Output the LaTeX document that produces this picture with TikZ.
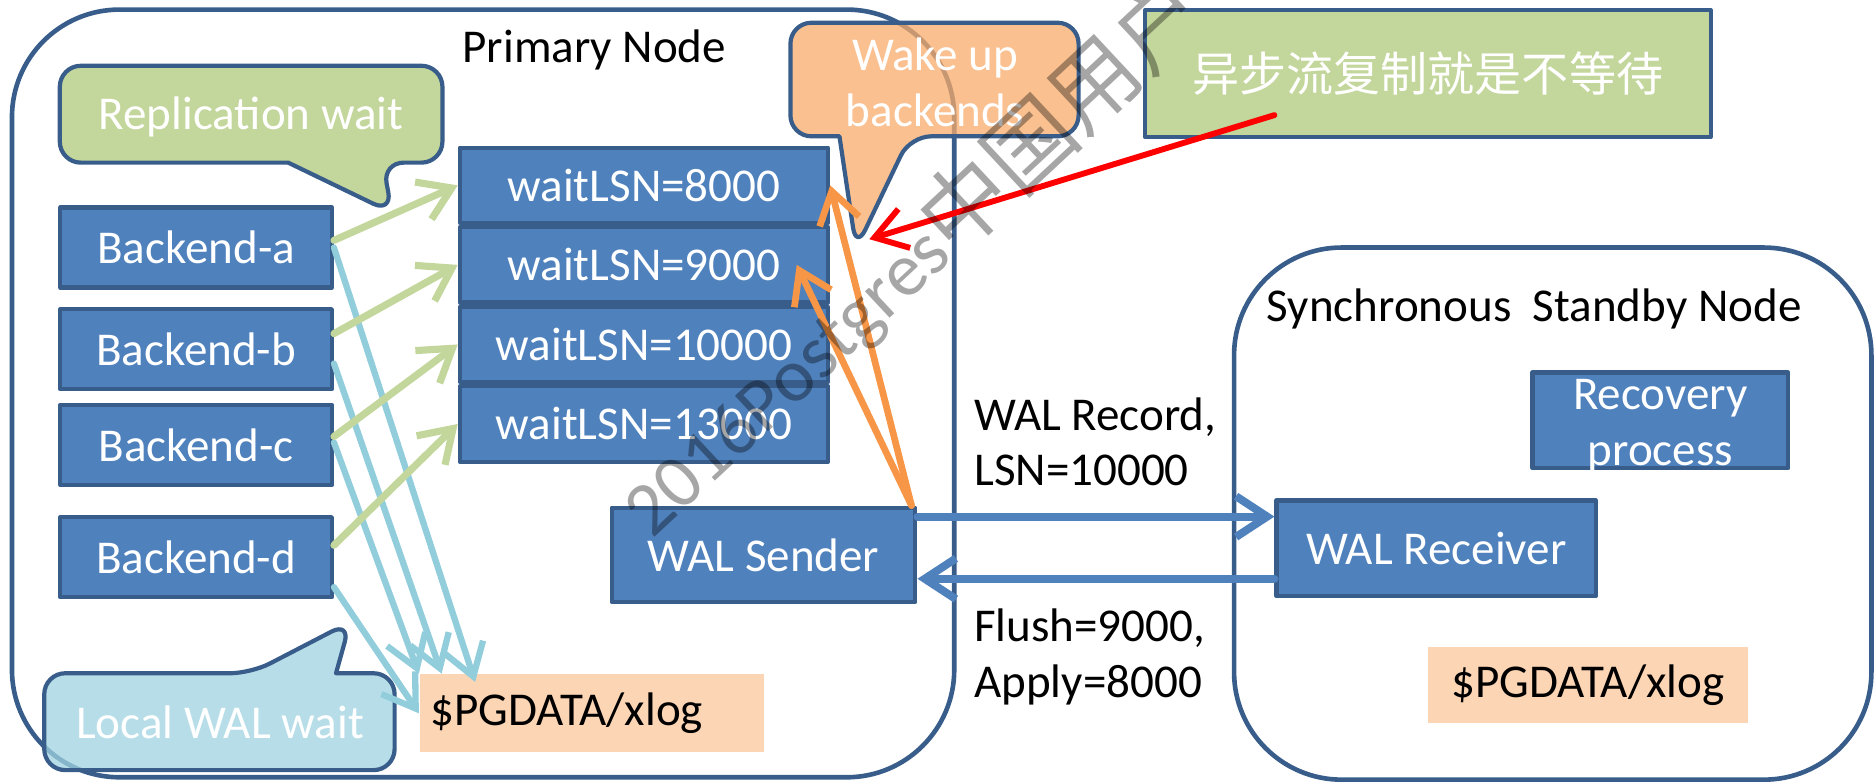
\documentclass[tikz,border=0pt]{standalone}
\usepackage{fontspec}
\setmainfont{Carlito}
\newfontfamily\cjk{Noto Sans CJK SC}
\usetikzlibrary{positioning,arrows.meta}

\definecolor{boxfill}{HTML}{4F81BD}
\definecolor{boxline}{HTML}{385D8A}
\definecolor{repgreen}{HTML}{C3D69B}
\definecolor{wakeorange}{HTML}{F8AB6B}
\definecolor{arroworange}{HTML}{F79646}
\definecolor{localblue}{HTML}{9FD3E0}
\definecolor{arrowblue}{HTML}{92CDDC}
\definecolor{xlogfill}{HTML}{FCD5B5}

\tikzset{
  frame/.style={draw=boxline,line width=1.1pt,rounded corners=0.9cm},
  procbox/.style={draw=boxline,line width=1pt,fill=boxfill,text=white,inner sep=0pt},
  backend/.style={procbox,minimum width=2.27cm,minimum height=0.67cm},
  waitbox/.style={procbox,minimum width=3.08cm,minimum height=0.63cm},
  callout/.style={draw=boxline,line width=1pt},
  xlog/.style={fill=xlogfill,inner sep=0pt},
  barb/.style={-{Straight Barb[length=2.6mm,width=3.4mm]}},
  greenarrow/.style={barb,draw=repgreen,line width=1.7pt},
  bluearrow/.style={barb,draw=arrowblue,line width=1.5pt},
  orangearrow/.style={barb,draw=arroworange,line width=1.6pt},
  walarrow/.style={barb,draw=boxfill,line width=1.9pt}
}

\begin{document}
\begin{tikzpicture}[line cap=round,line join=round,font=\fontsize{11.2}{13.3}\selectfont]
  \useasboundingbox (0,0) rectangle (15.68,6.54);
  % the two machines
  \draw[frame] (0.10,0.04) rectangle (7.98,6.46);
  \draw[frame] (10.32,0.02) rectangle (15.65,4.47);
  \node (prim) at (4.97,6.12) {Primary Node};
  \node (stby) at (12.83,3.96) {Synchronous~ Standby Node};

  % callouts
  \draw[callout,fill=repgreen,rounded corners=5pt] (0.50,5.99) -- (3.70,5.99) -- (3.70,5.18) -- (3.20,5.18)
    -- (3.28,4.76) [sharp corners] -- (2.41,5.18) [rounded corners=5pt] -- (0.50,5.18) -- cycle;
  \node[text=white] (repl) at (2.10,5.56) {Replication wait};
  \draw[callout,fill=wakeorange,fill opacity=0.75,rounded corners=5pt] (6.61,6.35) -- (9.02,6.35) -- (9.02,5.40) -- (7.61,5.40)
    -- (7.16,4.46) [sharp corners] -- (7.02,5.40) [rounded corners=5pt] -- (6.61,5.40) -- cycle;
  \coordinate (wtip) at (7.16,4.46);
  \node[text=white,align=center] (wake) at (7.82,5.85) {Wake up\\backends};
  \draw[callout,fill=localblue,fill opacity=0.75,rounded corners=5pt] (0.37,0.91) -- (2.10,0.91)
    -- (2.93,1.34) [sharp corners] -- (2.81,0.91) [rounded corners=5pt] -- (3.30,0.91) -- (3.30,0.10) -- (0.37,0.10) -- cycle;
  \node[text=white] (local) at (1.84,0.50) {Local WAL wait};
  \node[callout,fill=repgreen,minimum width=4.73cm,minimum height=1.06cm,text=white] (async) at (11.94,5.925) {\cjk 异步流复制就是不等待};

  % backends and wait queue
  \node[backend] (ba) at (1.64,4.47) {Backend-a};
  \node[backend] (bb) at (1.64,3.62) {Backend-b};
  \node[backend] (bc) at (1.64,2.82) {Backend-c};
  \node[backend] (bd) at (1.64,1.88) {Backend-d};
  \node[waitbox] (w1) at (5.385,4.99) {waitLSN=8000};
  \node[waitbox,below=0pt of w1] (w2) {waitLSN=9000};
  \node[waitbox,below=0pt of w2] (w3) {waitLSN=10000};
  \node[waitbox,below=0pt of w3] (w4) {waitLSN=13000};
  \node[procbox,minimum width=2.54cm,minimum height=0.79cm] (ws) at (6.385,1.90) {WAL Sender};
  \node[xlog,minimum width=2.88cm,minimum height=0.65cm,text width=2.70cm,inner xsep=0.09cm] (pg) at (4.95,0.575) {\$PGDATA/xlog};

  % standby side
  \node[procbox,minimum width=2.67cm,minimum height=0.80cm] (wr) at (12.01,1.955) {WAL Receiver};
  \node[procbox,minimum width=2.14cm,minimum height=0.80cm] (rec) at (13.885,3.025) {};
  \node[text=white,align=center] (rectext) at ([yshift=-0.05cm]rec.center) {Recovery\\process};
  \node[xlog,minimum width=2.68cm,minimum height=0.64cm] (pgs) at (13.28,0.81) {\$PGDATA/xlog};

  \node[anchor=west,align=left,inner sep=0pt] (sendlbl) at (8.14,2.845) {WAL Record,\\LSN=10000};
  \node[anchor=west,align=left,inner sep=0pt] (acklbl) at (8.14,1.05) {Flush=9000,\\Apply=8000};

  % local flush
  \draw[bluearrow] (ba.east) -- ([xshift=0.47cm,yshift=-0.07cm]pg.north west);
  \draw[bluearrow] ([yshift=-0.12cm]bb.east) -- ([xshift=0.19cm]pg.north west);
  \draw[bluearrow] ([yshift=0.02cm]bc.east) -- (pg.north west);
  \draw[bluearrow] ([yshift=-0.25cm]bd.east) -- (pg.west);
  % replication wait
  \draw[greenarrow] ([yshift=0.06cm]ba.east) -- (w1.west);
  \draw[greenarrow] ([yshift=0.13cm]bb.east) -- (w2.west);
  \draw[greenarrow] ([yshift=0.07cm]bc.east) -- (w3.west);
  \draw[greenarrow] ([yshift=0.10cm]bd.east) -- (w4.west);
  % wake up
  \draw[orangearrow] ([xshift=-0.05cm]ws.north east) -- (w1.east);
  \draw[orangearrow] ([xshift=-0.05cm]ws.north east) -- ([xshift=-0.28cm]w2.east);
  % streaming
  \draw[walarrow] ([yshift=0.32cm]ws.east) -- ([yshift=0.265cm]wr.west);
  \draw[walarrow] ([yshift=-0.255cm]wr.west) -- ([yshift=-0.20cm]ws.east);
  \draw[barb,draw=red,line width=1.4pt] ([xshift=1.10cm,yshift=0.20cm]async.south west) -- ([xshift=0.11cm,yshift=0.08cm]wtip);

  % watermark
  \node[rotate=43,anchor=base west,inner sep=0pt,text=black,text opacity=0.35,font=\fontsize{18}{18}\selectfont] (mark) at (5.45,2.02) {2016Postgres{\cjk\fontsize{21}{21}\selectfont 中国用户}};
\end{tikzpicture}
\end{document}
